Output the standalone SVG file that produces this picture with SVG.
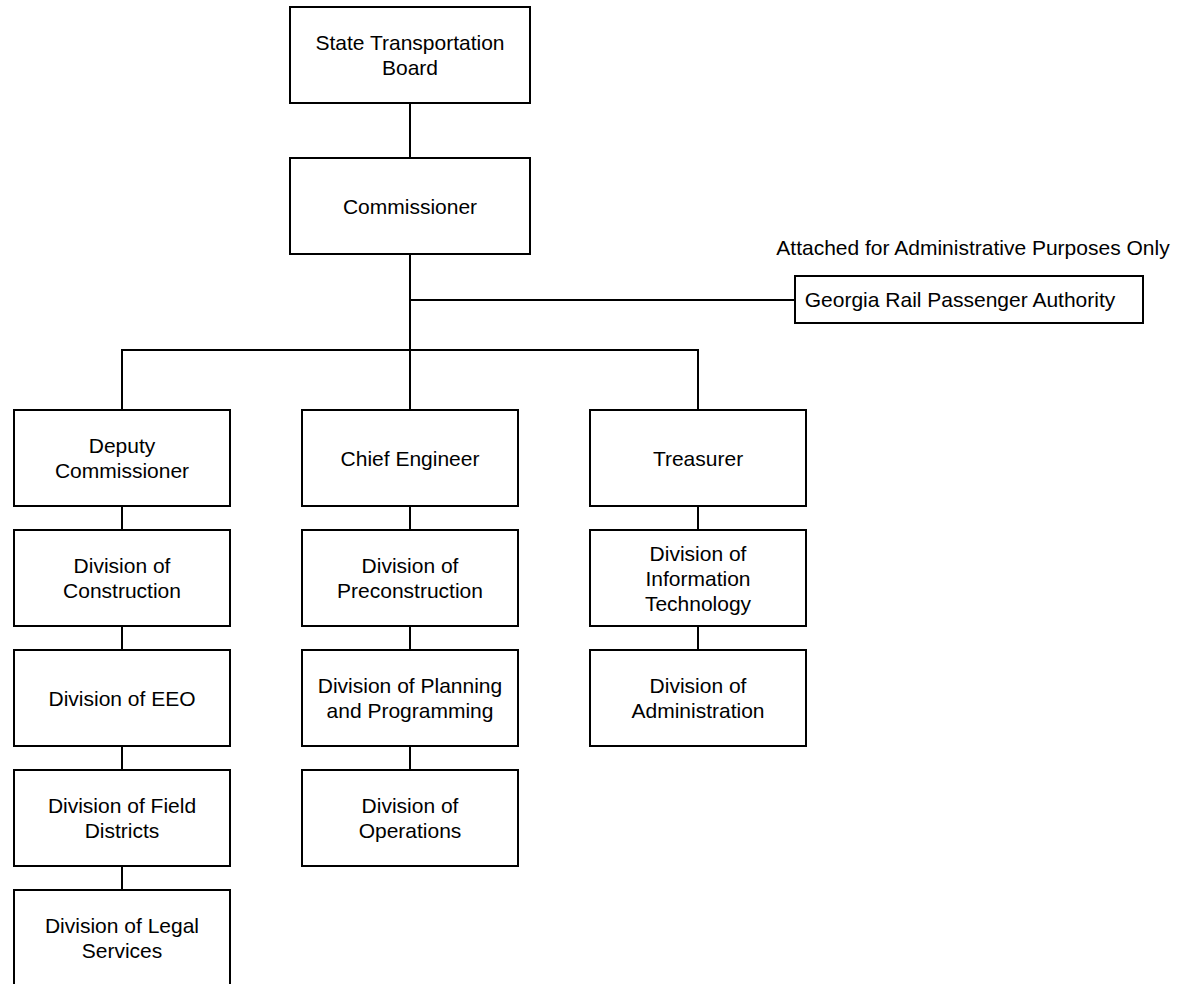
<svg xmlns="http://www.w3.org/2000/svg" width="1184" height="984" viewBox="0 0 1184 984">
<style>
.box{fill:#fff;stroke:#000;stroke-width:2}
.t{font-family:"Liberation Sans",Arial,sans-serif;font-size:21px;fill:#000;text-anchor:middle}
.c{fill:none;stroke:#000;stroke-width:2}
</style>
<rect width="1184" height="984" fill="#fff"/>
<g id="connectors">
<line class="c" x1="410" y1="103" x2="410" y2="158"/>
<line class="c" x1="410" y1="254" x2="410" y2="410"/>
<line class="c" x1="410" y1="300" x2="795" y2="300"/>
<polyline class="c" points="122,410 122,350 698,350 698,410"/>
<line class="c" x1="122" y1="506" x2="122" y2="530"/>
<line class="c" x1="122" y1="626" x2="122" y2="650"/>
<line class="c" x1="122" y1="746" x2="122" y2="770"/>
<line class="c" x1="122" y1="866" x2="122" y2="890"/>
<line class="c" x1="410" y1="506" x2="410" y2="530"/>
<line class="c" x1="410" y1="626" x2="410" y2="650"/>
<line class="c" x1="410" y1="746" x2="410" y2="770"/>
<line class="c" x1="698" y1="506" x2="698" y2="530"/>
<line class="c" x1="698" y1="626" x2="698" y2="650"/>
</g>
<g id="board"><rect class="box" x="290" y="7" width="240" height="96"/><text class="t" x="410" y="50">State Transportation</text><text class="t" x="410" y="75">Board</text></g>
<g id="commissioner"><rect class="box" x="290" y="158" width="240" height="96"/><text class="t" x="410" y="213.5">Commissioner</text></g>
<g id="note"><text class="t" x="973" y="255">Attached for Administrative Purposes Only</text></g>
<g id="grpa"><rect class="box" x="795" y="276" width="348" height="47"/><text class="t" x="960" y="307">Georgia Rail Passenger Authority</text></g>
<g id="deputy"><rect class="box" x="14" y="410" width="216" height="96"/><text class="t" x="122" y="453">Deputy</text><text class="t" x="122" y="478">Commissioner</text></g>
<g id="chief"><rect class="box" x="302" y="410" width="216" height="96"/><text class="t" x="410" y="465.5">Chief Engineer</text></g>
<g id="treasurer"><rect class="box" x="590" y="410" width="216" height="96"/><text class="t" x="698" y="465.5">Treasurer</text></g>
<g id="construction"><rect class="box" x="14" y="530" width="216" height="96"/><text class="t" x="122" y="573">Division of</text><text class="t" x="122" y="598">Construction</text></g>
<g id="eeo"><rect class="box" x="14" y="650" width="216" height="96"/><text class="t" x="122" y="705.5">Division of EEO</text></g>
<g id="field"><rect class="box" x="14" y="770" width="216" height="96"/><text class="t" x="122" y="813">Division of Field</text><text class="t" x="122" y="838">Districts</text></g>
<g id="legal"><rect class="box" x="14" y="890" width="216" height="96"/><text class="t" x="122" y="933">Division of Legal</text><text class="t" x="122" y="958">Services</text></g>
<g id="preconstruction"><rect class="box" x="302" y="530" width="216" height="96"/><text class="t" x="410" y="573">Division of</text><text class="t" x="410" y="598">Preconstruction</text></g>
<g id="planning"><rect class="box" x="302" y="650" width="216" height="96"/><text class="t" x="410" y="693">Division of Planning</text><text class="t" x="410" y="718">and Programming</text></g>
<g id="operations"><rect class="box" x="302" y="770" width="216" height="96"/><text class="t" x="410" y="813">Division of</text><text class="t" x="410" y="838">Operations</text></g>
<g id="it"><rect class="box" x="590" y="530" width="216" height="96"/><text class="t" x="698" y="560.5">Division of</text><text class="t" x="698" y="585.5">Information</text><text class="t" x="698" y="610.5">Technology</text></g>
<g id="admin"><rect class="box" x="590" y="650" width="216" height="96"/><text class="t" x="698" y="693">Division of</text><text class="t" x="698" y="718">Administration</text></g>
</svg>
